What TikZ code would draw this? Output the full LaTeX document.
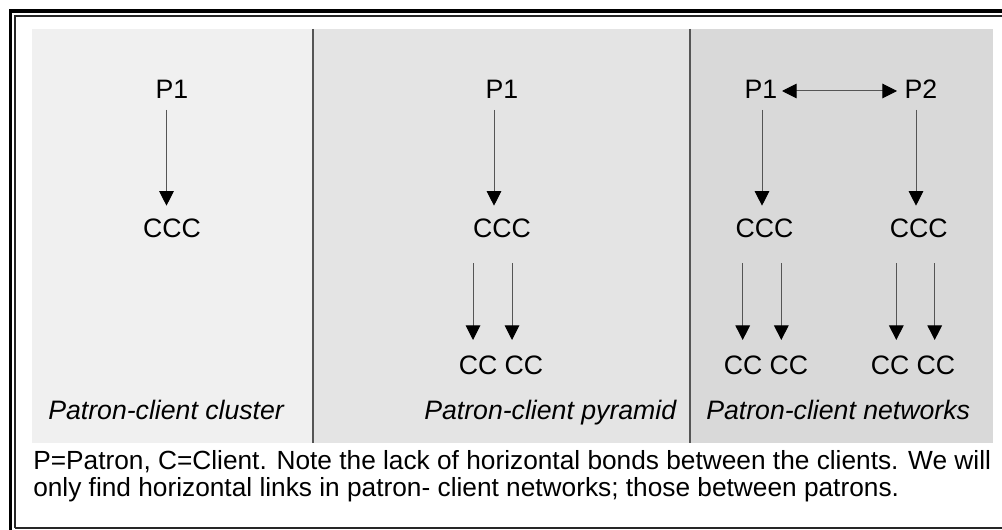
\documentclass[tikz,border=0pt]{standalone}
\usepackage{fontspec}
\setmainfont{Liberation Sans}
\usetikzlibrary{arrows.meta}
\definecolor{paneA}{HTML}{F0F0F0}
\definecolor{paneB}{HTML}{E4E4E4}
\definecolor{paneC}{HTML}{D9D9D9}
\definecolor{divider}{HTML}{555555}
\definecolor{stem}{HTML}{555555}
\tikzset{
  lbl/.style={inner sep=0pt, font=\fontsize{20}{24}\selectfont},
  caplbl/.style={inner sep=0pt, anchor=base west, font=\fontsize{20}{24}\selectfont\itshape},
  notelbl/.style={inner sep=0pt, anchor=base west, font=\fontsize{19.7}{24}\selectfont},
  arr/.style={draw=stem, line width=0.75pt,
    -{Triangle[length=11pt,width=11pt,color=black]}},
  darr/.style={draw=stem, line width=0.75pt,
    {Triangle[length=11pt,width=11pt,color=black]}-{Triangle[length=11pt,width=11pt,color=black]}},
  sep/.style={draw=divider, line width=1.1pt},
}
\begin{document}
\begin{tikzpicture}[x=0.75pt, y=-0.75pt]
\useasboundingbox (0,0) rectangle (1002,530);
\fill[white] (0,0) rectangle (1002,530);

% double frame
\draw[line width=2.3pt] (10.5,531) -- (10.5,11) -- (1003,11);
\draw[line width=1.1pt, black!85] (15,528) -- (15,16) -- (1003,16);
\draw[line width=1.1pt, black!85] (15,528) -- (1003,528);

% shaded panels
\fill[paneA] (32,29) rectangle (313,443);
\fill[paneB] (313,29) rectangle (690,443);
\fill[paneC] (690,29) rectangle (993,443);
\draw[sep] (313,29) -- (313,443);
\draw[sep] (690,29) -- (690,443);

% patron-client cluster
\node[lbl] (p1a) at (172,89.5) {P1};
\node[lbl] (c1)  at (172,228) {CCC};
\draw[arr] ([shift={(-5.5,20.5)}]p1a.center) -- ([shift={(-5.5,-22.3)}]c1.center);

% patron-client pyramid
\node[lbl] (p1b) at (502,89.5) {P1};
\node[lbl] (c2)  at (502,228) {CCC};
\node[lbl] (cc2) at (501,365.5) {CC CC};
\draw[arr] ([shift={(-8,20.5)}]p1b.center) -- ([shift={(-8,-22.3)}]c2.center);
\draw[arr] ([shift={(-29,35.3)}]c2.center) -- ([shift={(-28,-25.5)}]cc2.center);
\draw[arr] ([shift={(10,35.3)}]c2.center) -- ([shift={(11,-25.5)}]cc2.center);

% patron-client networks
\node[lbl] (p1c) at (761,89.5) {P1};
\node[lbl] (p2c) at (921,89.5) {P2};
\node[lbl] (c3a) at (764.5,228) {CCC};
\node[lbl] (c3b) at (918.7,228) {CCC};
\node[lbl] (cc3a) at (766,365.5) {CC CC};
\node[lbl] (cc3b) at (913,365.5) {CC CC};
\draw[darr] ([shift={(21,1.5)}]p1c.center) -- ([shift={(-24,1.5)}]p2c.center);
\draw[arr] ([shift={(1,20.5)}]p1c.center) -- ([shift={(-2.5,-22.3)}]c3a.center);
\draw[arr] ([shift={(-5,20.5)}]p2c.center) -- ([shift={(-2.7,-22.3)}]c3b.center);
\draw[arr] ([shift={(-21.8,35.3)}]c3a.center) -- ([shift={(-23.3,-25.5)}]cc3a.center);
\draw[arr] ([shift={(16.8,35.3)}]c3a.center) -- ([shift={(15.3,-25.5)}]cc3a.center);
\draw[arr] ([shift={(-22.4,35.3)}]c3b.center) -- ([shift={(-16.7,-25.5)}]cc3b.center);
\draw[arr] ([shift={(16,35.3)}]c3b.center) -- ([shift={(21.7,-25.5)}]cc3b.center);

% panel titles
\node[caplbl] (t1) at (48,419.5) {Patron-client cluster};
\node[caplbl] (t2) at (424,419.5) {Patron-client pyramid};
\node[caplbl] (t3) at (706,419.5) {Patron-client networks};

% explanatory note
\node[notelbl] (n1) at (33,469.5)
  {P=Patron, C=Client. Note the lack of horizontal bonds between the clients. We will};
\node[notelbl] (n2) at (33,496.5)
  {only find horizontal links in patron- client networks; those between patrons.};
\end{tikzpicture}
\end{document}
